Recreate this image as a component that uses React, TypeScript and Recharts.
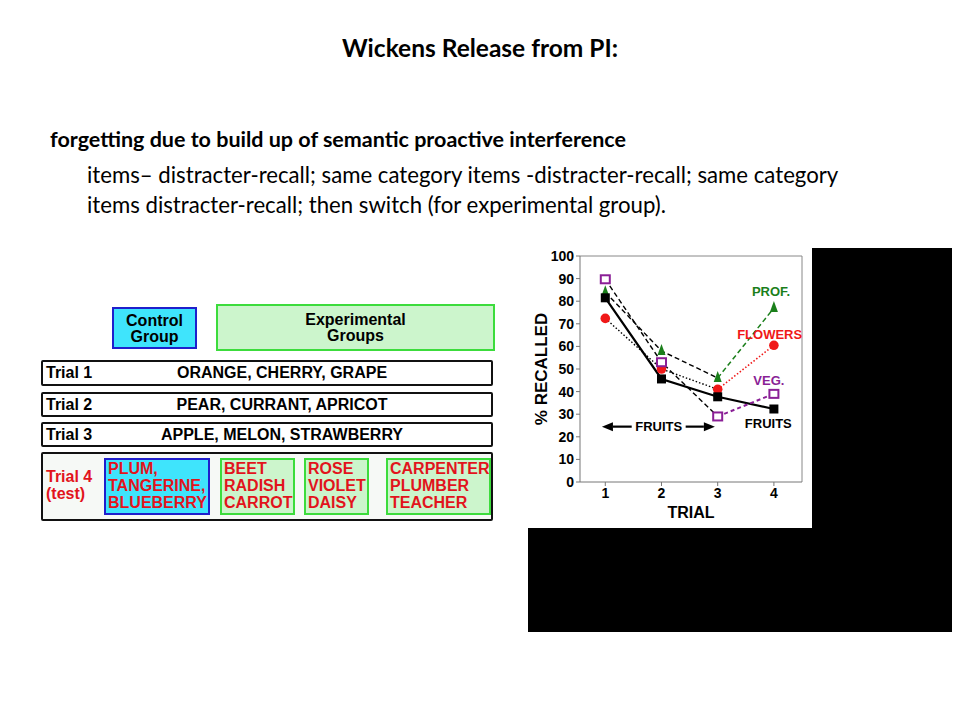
import React from 'react';
import {
  LineChart,
  Line,
  XAxis,
  YAxis,
  ReferenceLine,
  ReferenceDot,
} from 'recharts';

// values (% recalled per trial)
const trials = [1, 2, 3, 4];
const control = [81.5, 45.6, 37.7, 32.3];
const prof = [84, 58, 46, 77];
const flowers = [72.4, 50, 41, 60.5];
const veg = [89.7, 53, 29, 39];
const yTicks = [0, 10, 20, 30, 40, 50, 60, 70, 80, 90, 100];

const trialRows = [
  { label: 'Trial 1', words: 'ORANGE, CHERRY, GRAPE' },
  { label: 'Trial 2', words: 'PEAR, CURRANT, APRICOT' },
  { label: 'Trial 3', words: 'APPLE, MELON, STRAWBERRY' },
];
const testLists = [
  ['PLUM,', 'TANGERINE,', 'BLUEBERRY'],
  ['BEET', 'RADISH', 'CARROT'],
  ['ROSE', 'VIOLET', 'DAISY'],
  ['CARPENTER', 'PLUMBER', 'TEACHER'],
];

const ARIAL = '"Liberation Sans", Arial, Helvetica, sans-serif';
const SLIDE = 'Lato, "Open Sans", sans-serif';
const GREEN = '#1b7f1b';
const RED = '#f01818';
const PURPLE = '#8a1f96';

// fruit trials (1-3) are drawn in black for every group, the switch (3-4) in colour
const data = trials.map((t, i) => ({
  trial: t,
  control: control[i],
  prof: prof[i],
  flowers: flowers[i],
  veg: veg[i],
  profFruit: i <= 2 ? prof[i] : null,
  flowersFruit: i <= 2 ? flowers[i] : null,
  vegFruit: i <= 2 ? veg[i] : null,
  profSwitch: i >= 2 ? prof[i] : null,
  flowersSwitch: i >= 2 ? flowers[i] : null,
  vegSwitch: i >= 2 ? veg[i] : null,
}));

const BlackSquare = (p: any) =>
  p.cx == null ? <g key={p.key} /> : <rect key={p.key} x={p.cx - 4.5} y={p.cy - 4.5} width={9} height={9} fill="#000" />;
const OpenSquare = (p: any) =>
  p.cx == null ? <g key={p.key} /> : (
    <rect key={p.key} x={p.cx - 4.5} y={p.cy - 4} width={9} height={8} fill="#fff" stroke={PURPLE} strokeWidth={2} />
  );
const RedDot = (p: any) =>
  p.cx == null ? <g key={p.key} /> : <circle key={p.key} cx={p.cx} cy={p.cy} r={4.8} fill={RED} />;
const Triangle = (p: any) =>
  p.cx == null ? <g key={p.key} /> : (
    <polygon key={p.key} points={`${p.cx},${p.cy - 7} ${p.cx + 4},${p.cy + 4} ${p.cx - 4},${p.cy + 4}`} fill={GREEN} />
  );

const Arrow = (p: any) => {
  const { x1, y1, x2, y2 } = p;
  if (x1 == null) return <g />;
  const dir = x1 < x2 ? -1 : 1;
  const back = x1 - dir * 11;
  return (
    <g>
      <line x1={back} y1={y1} x2={x2} y2={y2} stroke="#000" strokeWidth={2.2} />
      <polygon points={`${x1},${y1} ${back},${y1 - 4.5} ${back},${y1 + 4.5}`} fill="#000" />
    </g>
  );
};

const tickStyle = { fill: '#000', fontSize: 14, fontWeight: 700, fontFamily: ARIAL };
const noteStyle = (color: string) => ({
  position: 'center' as const,
  fill: color,
  fontSize: 13,
  fontWeight: 700,
  fontFamily: ARIAL,
});

const RecallChart = () => (
  <LineChart
    width={284}
    height={288}
    data={data}
    margin={{ top: 16, right: 10, left: 0, bottom: 0 }}
    style={{ fontFamily: ARIAL }}
  >
    <XAxis
      dataKey="trial"
      type="number"
      domain={[0.55, 4.5]}
      ticks={trials}
      height={46}
      tickSize={4}
      tickMargin={2}
      stroke="#777"
      tick={tickStyle}
      allowDataOverflow
      label={{ value: 'TRIAL', position: 'insideBottom', offset: 10, fill: '#000', fontSize: 16, fontWeight: 700 }}
    />
    <YAxis
      type="number"
      domain={[0, 100]}
      ticks={yTicks}
      width={52}
      tickSize={4}
      tickMargin={2}
      stroke="#777"
      tick={tickStyle}
      interval={0}
      label={{ value: '% RECALLED', angle: -90, position: 'insideLeft', offset: 13, fill: '#000', fontSize: 17, fontWeight: 700, style: { textAnchor: 'middle' } }}
    />
    <ReferenceLine y={100} stroke="#888" />
    <ReferenceLine x={4.5} stroke="#888" />

    <Line dataKey="profFruit" stroke="#000" strokeWidth={1.4} strokeDasharray="5 3" dot={false} activeDot={false} isAnimationActive={false} />
    <Line dataKey="vegFruit" stroke="#000" strokeWidth={1.4} strokeDasharray="5 3" dot={false} activeDot={false} isAnimationActive={false} />
    <Line dataKey="flowersFruit" stroke="#000" strokeWidth={1.4} strokeDasharray="1.5 2" dot={false} activeDot={false} isAnimationActive={false} />
    <Line dataKey="control" stroke="#000" strokeWidth={2.2} dot={false} activeDot={false} isAnimationActive={false} />
    <Line dataKey="profSwitch" stroke={GREEN} strokeWidth={1.5} strokeDasharray="5 3" dot={false} activeDot={false} isAnimationActive={false} />
    <Line dataKey="flowersSwitch" stroke={RED} strokeWidth={1.6} strokeDasharray="1.5 2" dot={false} activeDot={false} isAnimationActive={false} />
    <Line dataKey="vegSwitch" stroke={PURPLE} strokeWidth={2} strokeDasharray="4 3" dot={false} activeDot={false} isAnimationActive={false} />

    <Line dataKey="flowers" stroke="none" dot={RedDot} activeDot={false} isAnimationActive={false} />
    <Line dataKey="prof" stroke="none" dot={Triangle} activeDot={false} isAnimationActive={false} />
    <Line dataKey="control" stroke="none" dot={BlackSquare} activeDot={false} isAnimationActive={false} />
    <Line dataKey="veg" stroke="none" dot={OpenSquare} activeDot={false} isAnimationActive={false} />

    <ReferenceLine segment={[{ x: 0.94, y: 24.5 }, { x: 1.47, y: 24.5 }]} shape={Arrow} />
    <ReferenceLine segment={[{ x: 2.95, y: 24.5 }, { x: 2.43, y: 24.5 }]} shape={Arrow} />
    <ReferenceDot x={1.95} y={24.5} r={0} fill="none" stroke="none" label={{ value: 'FRUITS', ...noteStyle('#000') }} />
    <ReferenceDot x={3.95} y={84.5} r={0} fill="none" stroke="none" label={{ value: 'PROF.', ...noteStyle(GREEN) }} />
    <ReferenceDot x={3.925} y={65.5} r={0} fill="none" stroke="none" label={{ value: 'FLOWERS', ...noteStyle(RED) }} />
    <ReferenceDot x={3.91} y={45} r={0} fill="none" stroke="none" label={{ value: 'VEG.', ...noteStyle(PURPLE) }} />
    <ReferenceDot x={3.9} y={25.9} r={0} fill="none" stroke="none" label={{ value: 'FRUITS', ...noteStyle('#000') }} />
  </LineChart>
);

const box = (left: number, top: number, width: number, height: number, extra: React.CSSProperties = {}): React.CSSProperties => ({
  position: 'absolute',
  left,
  top,
  width,
  height,
  boxSizing: 'border-box',
  ...extra,
});

const CYAN = '#3fe4fc';
const BLUE = '#1f1fcc';
const LGREEN = '#ccf5cc';
const BGREEN = '#3cdc3c';
const TEXTRED = '#e2141c';

const testBoxes = [
  { left: 104, width: 106, fill: CYAN, border: BLUE },
  { left: 220, width: 75, fill: LGREEN, border: BGREEN },
  { left: 304, width: 65, fill: LGREEN, border: BGREEN },
  { left: 386, width: 105, fill: LGREEN, border: BGREEN },
];

const Design = () => (
  <div style={{ fontFamily: ARIAL, fontWeight: 700, fontSize: 16, lineHeight: '16px', color: '#000' }}>
    <div style={box(112, 307, 85, 42, { background: CYAN, border: `2px solid ${BLUE}`, textAlign: 'center', paddingTop: 4 })}>
      Control
      <br />
      Group
    </div>
    <div style={box(216, 304, 279, 47, { background: LGREEN, border: `2px solid ${BGREEN}`, textAlign: 'center', paddingTop: 6 })}>
      Experimental
      <br />
      Groups
    </div>
    {trialRows.map((r, i) => (
      <div
        key={r.label}
        style={box(41, [360, 392, 422][i], 452, [26, 25, 25][i], {
          border: '2px solid #111',
          borderRadius: 2,
          background: '#fff',
          lineHeight: `${[22, 21, 21][i]}px`,
        })}
      >
        <span style={{ position: 'absolute', left: 3 }}>{r.label}</span>
        <span style={{ position: 'absolute', left: 239, transform: 'translateX(-50%)', whiteSpace: 'nowrap' }}>{r.words}</span>
      </div>
    ))}
    <div style={box(41, 452, 452, 69, { border: '2px solid #111', borderRadius: 2, background: '#f6f9f6' })} />
    <div style={box(46, 468, 60, 34, { color: TEXTRED, lineHeight: '17px' })}>
      Trial 4
      <br />
      (test)
    </div>
    {testBoxes.map((b, i) => (
      <div
        key={i}
        style={box(b.left, 458, b.width, 57, {
          background: b.fill,
          border: `2px solid ${b.border}`,
          color: TEXTRED,
          lineHeight: '17px',
          paddingLeft: 2,
          whiteSpace: 'nowrap',
          overflow: 'hidden',
        })}
      >
        {testLists[i].map((w) => (
          <div key={w}>{w}</div>
        ))}
      </div>
    ))}
  </div>
);

export default function App() {
  return (
    <div style={{ position: 'absolute', left: 0, top: 0, width: 960, height: 720, background: '#fff', overflow: 'hidden' }}>
      <div style={{ position: 'absolute', left: 0, top: 33, width: 960, textAlign: 'center', fontFamily: SLIDE, fontWeight: 700, fontSize: 24.5, lineHeight: '30px' }}>
        Wickens Release from PI:
      </div>
      <div style={{ position: 'absolute', left: 50, top: 126, fontFamily: SLIDE, fontWeight: 700, fontSize: 21.5, lineHeight: '26px', whiteSpace: 'nowrap' }}>
        forgetting due to build up of semantic proactive interference
      </div>
      <div style={{ position: 'absolute', left: 87, top: 160, fontFamily: SLIDE, fontSize: 22.2, lineHeight: '30px', whiteSpace: 'nowrap' }}>
        items– distracter-recall; same category items -distracter-recall; same category
        <br />
        items distracter-recall; then switch (for experimental group).
      </div>

      <Design />

      <div style={{ position: 'absolute', left: 528, top: 240 }}>
        <RecallChart />
      </div>
      <div style={{ position: 'absolute', left: 812, top: 248, width: 140, height: 384, background: '#000' }} />
      <div style={{ position: 'absolute', left: 528, top: 528, width: 424, height: 104, background: '#000' }} />
    </div>
  );
}
